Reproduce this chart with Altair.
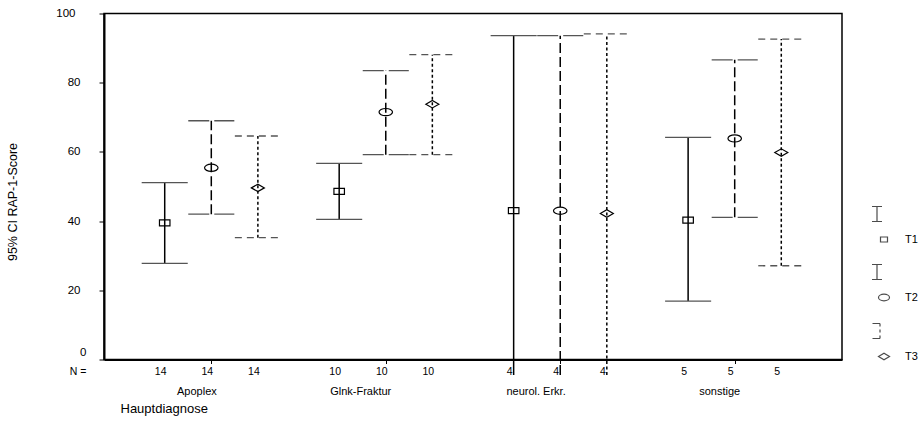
import json

import altair as alt
import pandas as pd

# Hauptdiagnose groups, measurement times and group sizes
categories = ["Apoplex", "Glnk-Fraktur", "neurol. Erkr.", "sonstige"]
series = ["T1", "T2", "T3"]
n_cases = [14, 10, 4, 5]

# RAP-1-Score: mean and 95% confidence interval per group and time
mean_t1 = [39.5, 48.6, 43.0, 40.3]
low_t1 = [27.8, 40.5, -7.6, 16.9]
high_t1 = [51.1, 56.7, 93.6, 64.2]

mean_t2 = [55.4, 71.5, 43.0, 63.9]
low_t2 = [42.0, 59.2, -7.6, 41.1]
high_t2 = [69.0, 83.5, 93.6, 86.6]

mean_t3 = [49.6, 73.8, 42.2, 59.8]
low_t3 = [35.2, 59.2, -9.7, 27.1]
high_t3 = [64.6, 88.1, 94.1, 92.6]

rows = []
for si, (s, m, lo, hi) in enumerate(
    zip(series, [mean_t1, mean_t2, mean_t3], [low_t1, low_t2, low_t3], [high_t1, high_t2, high_t3])
):
    for ci, cat in enumerate(categories):
        rows.append(
            {"kategorie": cat, "ci": ci + 1, "serie": s, "si": si, "n": n_cases[ci],
             "mean": m[ci], "low": lo[ci], "high": hi[ci]}
        )
df = pd.DataFrame(rows)

W, H = 738, 346
FONT = "Liberation Sans"
GROUP_GAP = 0.267     # distance between T1/T2/T3 inside a group (x units)
CAP_HALF = 0.132      # half width of the whisker caps (x units)
FLOOR = -4.5          # intervals are cut a little below the axis

base = alt.Chart(df).transform_calculate(
    pos=f"datum.ci + (datum.si - 1) * {GROUP_GAP}",
    cap_l=f"datum.ci + (datum.si - 1) * {GROUP_GAP} - {CAP_HALF}",
    cap_r=f"datum.ci + (datum.si - 1) * {GROUP_GAP} + {CAP_HALF}",
    low_draw=f"max(datum.low, {FLOOR})",
)

label_list = json.dumps([""] + categories)

x_scale = alt.Scale(domain=[0.385, 4.615], nice=False, zero=False)
x_axis = alt.Axis(
    values=[1, 2, 3, 4],
    labelExpr=f"{label_list}[datum.value]",
    grid=False,
    domainColor="black",
    domainWidth=2,
    tickColor="black",
    tickSize=4,
    labelFont=FONT,
    labelFontSize=11,
    labelColor="black",
    labelAlign="right",
    labelOffset=5,
    labelPadding=22,
    title="Hauptdiagnose",
    titleFont=FONT,
    titleFontSize=13,
    titleFontWeight="normal",
    titleColor="black",
    titleX=16,
    titleY=49,
    titleAnchor="start",
    titleAlign="left",
    titleBaseline="middle",
)

y_scale = alt.Scale(domain=[0, 100], nice=False, zero=False)
y_axis = alt.Axis(
    values=[0, 20, 40, 60, 80, 100],
    grid=False,
    domainColor="black",
    domainWidth=2,
    tickColor="black",
    tickSize=5,
    labelFont=FONT,
    labelFontSize=11.5,
    labelColor="black",
    labelPadding={
        "condition": [
            {"test": "datum.value == 0", "value": 13},
            {"test": "datum.value == 100", "value": 24},
        ],
        "value": 19,
    },
    labelOffset={"condition": {"test": "datum.value == 0", "value": -7}, "value": 0},
    title="95% CI RAP-1-Score",
    titleFont=FONT,
    titleFontSize=12.5,
    titleFontWeight="normal",
    titleColor="black",
    titleAngle=-90,
    titleX=-92,
    titleY=188,
    titleAlign="center",
    titleBaseline="middle",
)


def X(field):
    return alt.X(f"{field}:Q", scale=x_scale, axis=x_axis, title="Hauptdiagnose")


def Y(field):
    return alt.Y(f"{field}:Q", scale=y_scale, axis=y_axis, title="95% CI RAP-1-Score")


stem_dash = alt.StrokeDash(
    "serie:N", scale=alt.Scale(domain=series, range=[[1, 0], [10, 4], [3, 2.5]]), legend=None
)
cap_dash = alt.StrokeDash(
    "serie:N", scale=alt.Scale(domain=series, range=[[1, 0], [21, 5], [7, 5]]), legend=None
)

# vertical interval lines
stems = base.mark_rule(color="black", strokeWidth=1.5).encode(
    x=X("pos"), y=Y("low_draw"), y2="high:Q", strokeDash=stem_dash
)

# whisker caps
caps_top = base.mark_rule(color="#555555", strokeWidth=1.3).encode(
    x=X("cap_l"), x2="cap_r:Q", y=Y("high"), strokeDash=cap_dash
)
caps_low = base.transform_filter("datum.low >= 0").mark_rule(color="#555555", strokeWidth=1.3).encode(
    x=X("cap_l"), x2="cap_r:Q", y=Y("low"), strokeDash=cap_dash
)

# hollow mean markers: flat box, flat ellipse, flat diamond
marker_paths = [
    "M-1.05,-0.6L1.05,-0.6L1.05,0.6L-1.05,0.6Z",
    "M-1.35,0A1.35,0.72,0,1,0,1.35,0A1.35,0.72,0,1,0,-1.35,0Z",
    "M-1.3,0L0,-0.75L1.3,0L0,0.75Z",
]
markers = base.mark_point(filled=False, color="black", strokeWidth=1.2, size=100, opacity=1).encode(
    x=X("pos"),
    y=Y("mean"),
    shape=alt.Shape("serie:N", scale=alt.Scale(domain=series, range=marker_paths), legend=None),
)

# legend glyphs: interval symbol above, mean marker at the label line
beam = "M-1.2,-3.3L-0.2,-3.3M-0.7,-3.3L-0.7,-1.8M-1.2,-1.8L-0.2,-1.8"
bracket = ("M-1.15,-3.3L-0.4,-3.3M-0.4,-3.3L-0.4,-3.0M-0.4,-2.7L-0.4,-2.4"
           "M-0.4,-2.1L-0.4,-1.8M-1.15,-1.8L-0.4,-1.8")
legend_paths = [
    "M-0.35,-0.25L0.35,-0.25L0.35,0.25L-0.35,0.25Z" + beam,
    "M-0.55,0A0.55,0.33,0,1,0,0.55,0A0.55,0.33,0,1,0,-0.55,0Z" + beam,
    "M-0.55,0L0,-0.33L0.55,0L0,0.33Z" + bracket,
]
legend_layer = base.transform_filter("false").mark_point(filled=False, color="black", strokeWidth=1.2).encode(
    x=X("pos"),
    y=Y("mean"),
    shape=alt.Shape(
        "serie:N",
        scale=alt.Scale(domain=series, range=legend_paths),
        legend=alt.Legend(
            title=None,
            orient="none",
            legendX=769,
            legendY=215,
            padding=0,
            symbolSize=400,
            symbolOffset=0,
            symbolStrokeWidth=1.2,
            symbolStrokeColor="black",
            symbolFillColor="transparent",
            labelFont=FONT,
            labelFontSize=11,
            labelColor="black",
            labelOffset=10,
            rowPadding=17,
        ),
    ),
)

# group sizes under the axis
n_text = base.mark_text(font=FONT, fontSize=10.5, baseline="middle", dx=-4, color="black").encode(
    x=X("pos"), y=alt.value(H + 12.5), text="n:Q"
)
n_head = alt.Chart(pd.DataFrame({"t": ["N ="]})).mark_text(
    font=FONT, fontSize=10.5, baseline="middle", align="center", color="black"
).encode(x=alt.value(-26), y=alt.value(H + 12.5), text="t:N")

chart = (
    alt.layer(stems, caps_top, caps_low, markers, legend_layer, n_text, n_head)
    .resolve_scale(shape="independent", strokeDash="independent")
    .properties(
        width=W,
        height=H,
        autosize=alt.AutoSizeParams(type="none"),
        padding={"left": 104, "top": 13.5, "right": 79, "bottom": 83.5},
        background="white",
    )
    .configure_view(stroke="black", strokeWidth=1.5)
)

chart.save("out.html", embed_options={"renderer": "svg", "actions": False})
